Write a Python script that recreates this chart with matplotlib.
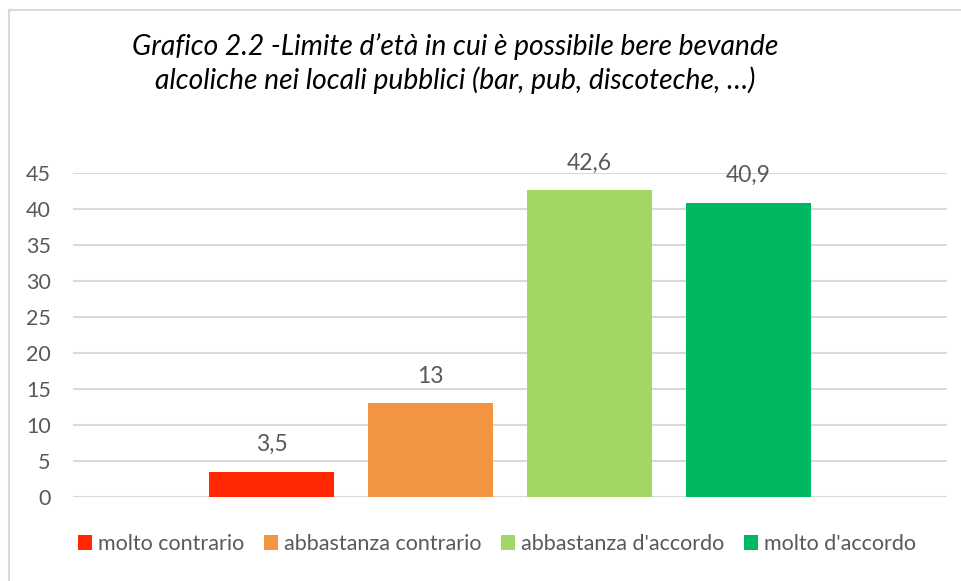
import matplotlib
matplotlib.use("Agg")
import matplotlib.pyplot as plt
from matplotlib.patches import Patch, Rectangle

categories = ["molto contrario", "abbastanza contrario",
              "abbastanza d'accordo", "molto d'accordo"]
values = [3.5, 13, 42.6, 40.9]
labels = ["3,5", "13", "42,6", "40,9"]
colors = ["#FF2800", "#F29440", "#A2D665", "#00B862"]
yticks = [0, 5, 10, 15, 20, 25, 30, 35, 40, 45]

TXT = "#595959"
GRID = "#D9D9D9"
FONT = "Lato"

W, H = 962, 581
fig = plt.figure(figsize=(W / 100, H / 100), dpi=100)
fig.patch.set_facecolor("white")

# chart frame (Excel style)
fig.add_artist(Rectangle((8.5 / W, -0.1), 1.2, 1 - 9.5 / H + 0.1,
                         transform=fig.transFigure, fill=False,
                         edgecolor=GRID, lw=1.5))

ax = fig.add_axes([73 / W, (H - 497) / H, (947 - 73) / W, (497 - 173) / H])
x = list(range(len(values)))
ax.bar(x, values, width=125 / 159, color=colors, zorder=3)
for xi, v, lab in zip(x, values, labels):
    ax.annotate(lab, (xi, v), textcoords="offset points", xytext=(0, 19.5),
                ha="center", va="center", color=TXT, fontsize=16.5,
                family=FONT, annotation_clip=False)

ax.set_xlim(-1.248, 4.248)
ax.set_ylim(0, 45)
ax.set_yticks(yticks)
ax.set_yticklabels([str(t) for t in yticks], family=FONT, fontsize=15.5, color=TXT)
ax.set_xticks([])
ax.tick_params(axis="y", length=0, pad=16)
ax.grid(axis="y", color=GRID, lw=1.5, zorder=0)
for s in ax.spines.values():
    s.set_visible(False)

fig.text(455 / W, 1 - 47 / H,
         "Grafico 2.2 -Limite d\u2019età in cui è possibile bere bevande",
         ha="center", va="center", fontsize=20.3, style="italic",
         family=FONT, color="black")
fig.text(455 / W, 1 - 80 / H,
         "alcoliche nei locali pubblici (bar, pub, discoteche, \u2026)",
         ha="center", va="center", fontsize=20.3, style="italic",
         family=FONT, color="black")

handles = [Patch(facecolor=c, edgecolor="none") for c in colors]
fig.legend(handles, categories, loc="center", bbox_to_anchor=(497 / W, 1 - 544 / H),
           ncol=4, frameon=False, handlelength=0.65, handleheight=0.75,
           handletextpad=0.3, columnspacing=0.9,
           prop={"family": FONT, "size": 15.5}, labelcolor=TXT)

fig.savefig("out.png", dpi=100, facecolor="white")
